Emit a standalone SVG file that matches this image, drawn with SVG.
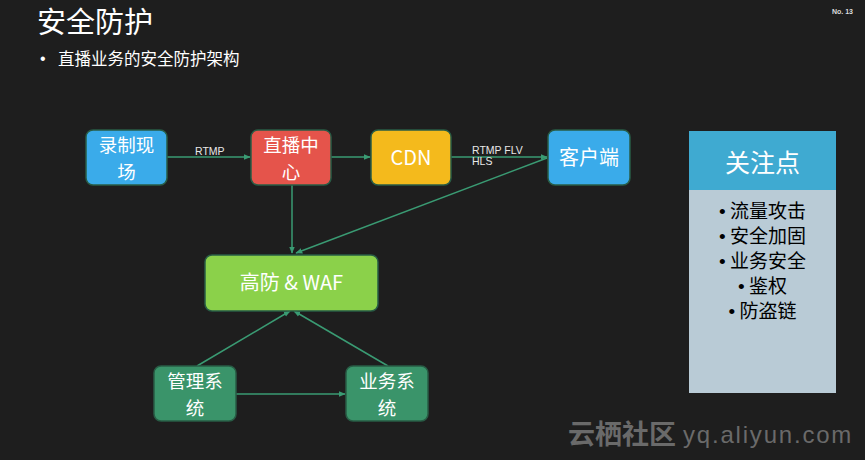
<svg xmlns="http://www.w3.org/2000/svg" width="865" height="460" viewBox="0 0 865 460">
<defs>
<marker id="ah" viewBox="0 0 10 10" refX="9" refY="5" markerWidth="7" markerHeight="7" orient="auto" markerUnits="userSpaceOnUse">
<path d="M0,1 L10,5 L0,9 Z" fill="#3a9b73"/>
</marker>
<style>
.t{font-family:"Noto Sans CJK SC","Liberation Sans",sans-serif;}
.nt{font-family:"Noto Sans CJK SC","Liberation Sans",sans-serif;font-size:20px;fill:#ffffff;text-anchor:middle;}
.n2{font-size:18.5px;}
.box{stroke:#285c45;stroke-width:1.5;}
.c{stroke:#3a9b73;stroke-width:1.5;fill:none;marker-end:url(#ah);}
.lbl{font-family:"Liberation Sans",sans-serif;font-size:10.5px;fill:#e8e8e8;}
.li{font-family:"Noto Sans CJK SC","Liberation Sans",sans-serif;font-size:19px;fill:#000000;text-anchor:middle;}
.b{font-family:"Liberation Sans",sans-serif;}
</style>
</defs>
<rect x="0" y="0" width="865" height="460" fill="#1e1e1e"/>
<text class="t" x="37" y="33" font-size="29" fill="#ffffff">安全防护</text>
<text class="b" x="40" y="64" font-size="16" fill="#ffffff">•</text>
<text class="t" x="58" y="65" font-size="16.5" fill="#ffffff">直播业务的安全防护架构</text>
<text x="832" y="14" font-family="Liberation Sans,sans-serif" font-size="7" font-weight="bold" fill="#dddddd">No. 13</text>

<g id="connectors">
<line class="c" x1="167" y1="157" x2="250" y2="157"/>
<line class="c" x1="331" y1="157" x2="370" y2="157"/>
<line class="c" x1="451" y1="157" x2="547" y2="157"/>
<line class="c" x1="292" y1="185" x2="292" y2="253"/>
<line class="c" x1="547" y1="158" x2="296" y2="253"/>
<line class="c" x1="197" y1="366" x2="290" y2="311"/>
<line class="c" x1="388" y1="366" x2="294" y2="311"/>
<line class="c" x1="236" y1="394" x2="345" y2="394"/>
<text class="lbl" x="195" y="155">RTMP</text>
<text class="lbl" x="472" y="154">RTMP FLV</text>
<text class="lbl" x="472" y="165">HLS</text>
</g>

<g id="n1">
<rect class="box" x="86" y="130" width="81" height="55" rx="7" fill="#3aabea"/>
<text class="nt n2" x="126.5" y="152">录制现<tspan x="126.5" dy="27">场</tspan></text>
</g>
<g id="n2">
<rect class="box" x="251" y="130" width="80" height="55" rx="7" fill="#e5544b"/>
<text class="nt n2" x="291" y="152">直播中<tspan x="291" dy="27">心</tspan></text>
</g>
<g id="n3">
<rect class="box" x="371" y="130" width="80" height="55" rx="7" fill="#f4ba1c"/>
<text class="nt" x="411" y="165">CDN</text>
</g>
<g id="n4">
<rect class="box" x="548" y="130" width="82" height="55" rx="7" fill="#3aabea"/>
<text class="nt" x="589" y="165">客户端</text>
</g>
<g id="n5">
<rect class="box" x="205" y="255" width="173" height="56" rx="7" fill="#8bd14a"/>
<text class="nt" x="291.5" y="290">高防 &amp; WAF</text>
</g>
<g id="n6">
<rect class="box" x="154" y="366" width="82" height="55" rx="7" fill="#3a946a"/>
<text class="nt n2" x="195" y="388">管理系<tspan x="195" dy="27">统</tspan></text>
</g>
<g id="n7">
<rect class="box" x="346" y="366" width="82" height="55" rx="7" fill="#3a946a"/>
<text class="nt n2" x="387" y="388">业务系<tspan x="387" dy="27">统</tspan></text>
</g>

<g id="panel">
<rect x="689" y="131" width="147" height="262" fill="#b9cbd6"/>
<rect x="689" y="131" width="147" height="59" fill="#3faad1"/>
<text class="t" x="762.5" y="172" font-size="25" fill="#ffffff" text-anchor="middle">关注点</text>
<text class="li" x="762.5" y="218"><tspan class="b">•</tspan> 流量攻击</text>
<text class="li" x="762.5" y="243"><tspan class="b">•</tspan> 安全加固</text>
<text class="li" x="762.5" y="268"><tspan class="b">•</tspan> 业务安全</text>
<text class="li" x="762.5" y="293"><tspan class="b">•</tspan> 鉴权</text>
<text class="li" x="762.5" y="318"><tspan class="b">•</tspan> 防盗链</text>
</g>

<text x="568" y="444" font-family="Noto Sans CJK SC,sans-serif" font-size="27" font-weight="bold" fill="#6a6a6a">云栖社区</text>
<text x="683" y="443" font-family="Liberation Sans,sans-serif" font-size="24" letter-spacing="1.8" fill="#6a6a6a">yq.aliyun.com</text>
</svg>
